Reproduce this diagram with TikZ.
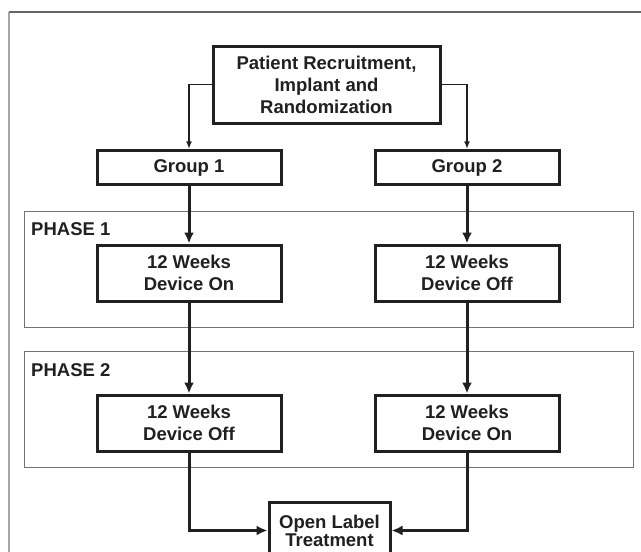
\documentclass[tikz,border=0pt]{standalone}
\usepackage{fontspec}
\setmainfont{Liberation Sans}
\usetikzlibrary{arrows.meta}
\definecolor{ink}{HTML}{231F20}

\begin{document}
\begin{tikzpicture}[
    x=1pt, y=-1pt,
    box/.style={rectangle, draw=ink, line width=3pt, align=center, text=ink,
        font=\fontsize{18.5}{22}\selectfont\bfseries, inner sep=0pt},
    phase/.style={rectangle, draw=black!55, line width=0.9pt, inner sep=0pt,
        minimum width=609pt, minimum height=116pt},
    phaselabel/.style={anchor=base west, inner sep=0pt, text=ink,
        font=\fontsize{18.5}{22}\selectfont\bfseries},
    link/.style={draw=ink, line width=1.6pt, -{Latex[length=8pt,width=6pt]}},
    flow/.style={draw=ink, line width=3pt, -{Latex[length=11pt,width=10pt]}}
]
\useasboundingbox (0,0) rectangle (641,552);

% Frame
\draw[black!35, line width=1.4pt] (9,552) -- (9,12);
\draw[black!60, line width=1.4pt] (9,12) -- (641,12);

% Phases
\node[phase] (ph1) at (328.5,269) {};
\node[phase] (ph2) at (328.5,409.5) {};
\node[phaselabel] (ph1lbl) at (31,235) {PHASE 1};
\node[phaselabel] (ph2lbl) at (31,376) {PHASE 2};

% Recruitment
\node[box, minimum width=227pt, minimum height=77pt] (start) at (326.5,84.5)
    {Patient Recruitment,\\Implant and\\Randomization};

% Groups
\node[box, minimum width=184pt, minimum height=33.5pt] (grp1) at (189,167.5) {Group 1};
\node[box, minimum width=184pt, minimum height=33.5pt] (grp2) at (467,167.5) {Group 2};

% Phase 1 boxes
\node[box, minimum width=184pt, minimum height=56pt] (p1on) at (189,273) {12 Weeks\\Device On};
\node[box, minimum width=184pt, minimum height=56pt] (p1off) at (467,273) {12 Weeks\\Device Off};

% Phase 2 boxes
\node[box, minimum width=184pt, minimum height=56pt] (p2off) at (189,423) {12 Weeks\\Device Off};
\node[box, minimum width=184pt, minimum height=56pt] (p2on) at (467,423) {12 Weeks\\Device On};

% Open label
\node[box, minimum width=121pt, minimum height=56pt, anchor=north,
    font=\fontsize{18.5}{18}\selectfont\bfseries] (open) at (329.5,501) {Open Label\\Treatment};

% Connections
\draw[link] (start.west) -| (grp1.north);
\draw[link] (start.east) -| (grp2.north);

\draw[flow] (grp1) -- (p1on);
\draw[flow] (grp2) -- (p1off);
\draw[flow] (p1on) -- (p2off);
\draw[flow] (p1off) -- (p2on);

\draw[flow] (p2off.south) |- (open.west);
\draw[flow] (p2on.south) |- (open.east);

\end{tikzpicture}
\end{document}
